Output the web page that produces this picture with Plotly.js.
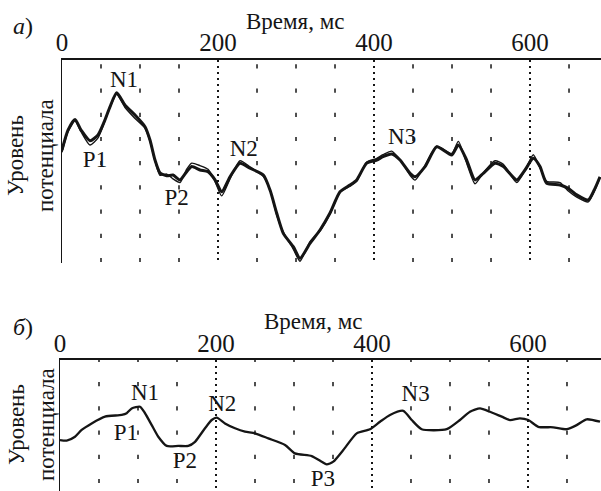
<!DOCTYPE html>
<html>
<head>
<meta charset="utf-8">
<script src="https://cdn.plot.ly/plotly-2.35.2.min.js"></script>
<style>html,body{margin:0;padding:0;background:#fff;}#chart{width:601px;height:491px;}</style>
</head>
<body>
<div id="chart"></div>
<script>
// ---------- Panel a) ----------
var timeA = [0, 7.7, 16.7, 24.4, 35.9, 46.2, 55.1, 61.5, 70.1, 80.8, 93.6, 106.4, 112.8, 119.2, 125.6, 134.2, 142.3, 151.3, 159.9, 166.3, 176.9, 187.2, 196.2, 204.7, 215.4, 228.2, 241, 258.1, 266.7, 275.3, 283.7, 296.5, 305.1, 317.9, 330.8, 343.6, 356.4, 369.2, 377.8, 390.6, 403.5, 411.5, 422.7, 433.3, 446.2, 452.6, 465.4, 480.4, 499.6, 508.1, 518.8, 529.5, 540.1, 555.1, 565.8, 582.9, 593.6, 604.2, 612.8, 621.4, 638.5, 649.1, 659.9, 674.7, 683.3, 689.7];
var levelA1 = [4.55, 5.37, 5.81, 5.37, 4.93, 5.17, 5.79, 6.33, 6.91, 6.40, 5.99, 5.51, 4.96, 4.13, 3.60, 3.48, 3.51, 3.31, 3.65, 3.86, 3.72, 3.65, 3.31, 2.82, 3.44, 4.00, 3.79, 3.51, 2.89, 1.93, 1.10, 0.55, 0.07, 0.69, 1.24, 1.94, 2.82, 3.10, 3.31, 4.00, 4.13, 4.27, 4.38, 4.13, 3.58, 3.44, 3.86, 4.68, 4.34, 4.75, 4.13, 3.31, 3.58, 4.00, 3.86, 3.31, 3.72, 4.20, 3.86, 3.17, 3.10, 2.96, 2.69, 2.48, 2.96, 3.44];
var levelA2 = [4.45, 5.30, 5.75, 5.30, 4.75, 5.05, 5.75, 6.30, 6.85, 6.30, 5.85, 5.45, 4.90, 4.10, 3.50, 3.55, 3.35, 3.20, 3.75, 4.00, 3.90, 3.75, 3.25, 2.65, 3.35, 4.10, 3.85, 3.45, 2.90, 1.85, 1.15, 0.45, -0.05, 0.75, 1.20, 1.90, 2.80, 3.05, 3.25, 4.05, 4.20, 4.35, 4.50, 4.15, 3.50, 3.30, 3.90, 4.70, 4.40, 4.90, 4.00, 3.15, 3.60, 4.10, 3.95, 3.20, 3.70, 4.35, 3.80, 3.25, 3.20, 2.85, 2.60, 2.40, 2.90, 3.40];
var peakNamesA = ['N1', 'P1', 'P2', 'N2', 'P3', 'N3'];
var peakTimeA = [79.5, 42.3, 147, 233, 308, 436];
var peakLevelA = [7.40, 4.09, 2.52, 4.55, -0.70, 5.04];

// ---------- Panel б) ----------
var timeB = [0, 8.6, 19.2, 27.8, 40.6, 57.7, 79.1, 85.5, 91.9, 102.6, 109, 117.6, 126, 136.8, 151.7, 164.5, 173.1, 185.9, 194.5, 200.9, 211.5, 224.4, 237.2, 250, 267.1, 288.5, 301.3, 322.7, 335.5, 341.9, 350.4, 363.2, 380.4, 397.4, 410.3, 423.1, 440.1, 450.9, 463.7, 495.8, 512.8, 525.6, 538.5, 551.3, 566.3, 576.9, 589.7, 600.4, 613.2, 632.4, 649.6, 662.4, 675.3, 692.3];
var levelB = [1.69, 1.67, 1.83, 2.11, 2.38, 2.66, 2.73, 2.80, 3.00, 3.07, 2.80, 2.31, 1.83, 1.45, 1.45, 1.45, 1.62, 2.18, 2.52, 2.62, 2.38, 2.18, 2.04, 1.97, 1.76, 1.49, 1.14, 1.03, 0.80, 0.69, 0.80, 1.28, 1.97, 2.14, 2.45, 2.73, 2.90, 2.52, 2.14, 2.14, 2.52, 2.86, 3.00, 2.86, 2.66, 2.52, 2.59, 2.52, 2.24, 2.22, 2.14, 2.31, 2.55, 2.45];
var peakNamesB = ['N1', 'P1', 'P2', 'N2', 'P3', 'N3'];
var peakTimeB = [109, 84.6, 160, 208, 337, 456];
var peakLevelB = [3.60, 1.92, 0.79, 3.14, 0.02, 3.55];

// ---------- axes / grid ----------
var tickValues = [0, 200, 400, 600];
var dotColumns = [50, 100, 150, 250, 300, 350, 450, 500, 550, 650];
var dotRowsA = [0, 1, 2, 3, 4, 5, 6, 7, 8];
var dotRowsB = [0, 1, 2, 3, 4, 5];

function gridDots(cols, rows) {
  var gx = [], gy = [];
  rows.forEach(function (r) { cols.forEach(function (c) { gx.push(c); gy.push(r); }); });
  return {x: gx, y: gy};
}
var dA = gridDots(dotColumns, dotRowsA);
var dB = gridDots(dotColumns, dotRowsB);

var ink = '#151515';
var serif = 'Liberation Serif';
var dotMarker = {symbol: 'line-ns', size: 3, color: ink, line: {width: 1.5, color: ink}};

var traces = [
  {x: dA.x, y: dA.y, xaxis: 'x', yaxis: 'y', mode: 'markers', marker: dotMarker, hoverinfo: 'skip'},
  {x: dB.x, y: dB.y, xaxis: 'x2', yaxis: 'y2', mode: 'markers', marker: dotMarker, hoverinfo: 'skip'},
  {x: timeA, y: levelA1, xaxis: 'x', yaxis: 'y', mode: 'lines', line: {color: ink, width: 3, shape: 'spline', smoothing: 0.6}},
  {x: timeA, y: levelA2, xaxis: 'x', yaxis: 'y', mode: 'lines', line: {color: ink, width: 1.4, shape: 'spline', smoothing: 0.6}},
  {x: timeB, y: levelB, xaxis: 'x2', yaxis: 'y2', mode: 'lines', line: {color: ink, width: 2.3, shape: 'spline', smoothing: 0.6}},
  {x: peakTimeA, y: peakLevelA, text: peakNamesA, xaxis: 'x', yaxis: 'y', mode: 'text', textposition: 'middle center', cliponaxis: false, textfont: {family: serif, size: 23, color: ink}},
  {x: peakTimeB, y: peakLevelB, text: peakNamesB, xaxis: 'x2', yaxis: 'y2', mode: 'text', textposition: 'middle center', cliponaxis: false, textfont: {family: serif, size: 23, color: ink}}
];

function xAxis(domain, range, anchor, standoff) {
  return {domain: domain, range: range, anchor: anchor, side: 'top', showline: true, linewidth: 2, linecolor: ink,
    tickmode: 'array', tickvals: tickValues, ticks: '', showgrid: true, gridcolor: ink, gridwidth: 1.4,
    griddash: '2px,4px', zeroline: false, ticklabelstandoff: standoff,
    tickfont: {family: serif, size: 25, color: ink}, fixedrange: true};
}
function yAxis(domain, range, anchor) {
  return {domain: domain, range: range, anchor: anchor, showline: true, linewidth: 1.5, linecolor: ink,
    showticklabels: false, ticks: '', showgrid: false, zeroline: false, fixedrange: true};
}

function note(text, px, py, size, angle) {
  return {text: text, xref: 'paper', yref: 'paper', x: px / 601, y: 1 - py / 491, xanchor: 'center', yanchor: 'middle',
    textangle: angle || 0, showarrow: false, font: {family: serif, size: size, color: ink}};
}

var layout = {
  width: 601, height: 491,
  margin: {l: 0, r: 0, t: 0, b: 0, autoexpand: false},
  paper_bgcolor: '#ffffff', plot_bgcolor: '#ffffff',
  showlegend: false,
  font: {family: serif, color: ink, size: 22},
  xaxis: xAxis([62 / 601, 1], [0, 691], 'y', -3),
  yaxis: yAxis([1 - 263 / 491, 1 - 60 / 491], [-0.124, 8.264], 'x'),
  xaxis2: xAxis([60 / 601, 1], [0, 693.6], 'y2', -4),
  yaxis2: yAxis([0, 1 - 360 / 491], [-0.413, 5.0], 'x2'),
  annotations: [
    note('<i>а</i>)', 23, 26, 24),
    note('Время, мс', 294.5, 21, 23),
    note('Уровень<br>потенциала', 31, 156, 23, -90),
    note('<i>б</i>)', 23, 327, 24),
    note('Время, мс', 313, 321, 23),
    note('Уровень<br>потенциала', 31, 425, 23, -90)
  ]
};

Plotly.newPlot('chart', traces, layout, {staticPlot: true, displayModeBar: false});
</script>
</body>
</html>
